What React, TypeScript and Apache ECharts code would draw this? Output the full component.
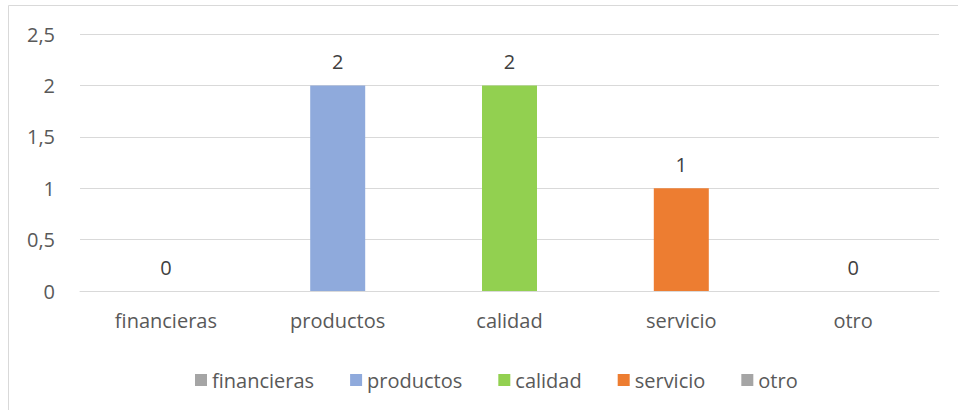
import React, { useEffect, useRef } from "react";
import * as echarts from "echarts";

const categories = ["financieras", "productos", "calidad", "servicio", "otro"];
const values = [0, 2, 2, 1, 0];
const colors = ["#A5A5A5", "#8FAADC", "#92D050", "#ED7D31", "#A5A5A5"];
const yTicks = { min: 0, max: 2.5, interval: 0.5 };

const FONT = "'Open Sans', 'Noto Sans', sans-serif";
const TXT = "#595959";

export default function App() {
  const ref = useRef<HTMLDivElement>(null);
  useEffect(() => {
    if (!ref.current) return;
    const chart = echarts.init(ref.current, null, { renderer: "svg" });
    const series = categories.map((name, i) => ({
      name,
      type: "bar",
      data: categories.map((_, j) => (j === i ? values[i] : "-")),
      barWidth: 55,
      barGap: "-100%",
      itemStyle: { color: colors[i] },
      label: {
        show: true,
        position: "top",
        distance: 14,
        fontFamily: FONT,
        fontSize: 20,
        color: "#404040",
      },
    }));
    chart.setOption({
      animation: false,
      textStyle: { fontFamily: FONT },
      graphic: [
        {
          type: "rect",
          shape: { x: 8.5, y: 5.5, width: 980, height: 430 },
          style: { fill: "none", stroke: "#d9d9d9", lineWidth: 1 },
          silent: true,
        },
      ],
      grid: { left: 80, right: 19, top: 34, bottom: 119, containLabel: false },
      legend: {
        left: 190,
        top: 365,
        icon: "rect",
        itemWidth: 12,
        itemHeight: 12,
        itemGap: 36,
        textStyle: { fontFamily: FONT, fontSize: 20, color: TXT },
        data: categories,
      },
      xAxis: {
        type: "category",
        data: categories,
        axisLine: { lineStyle: { color: "#d9d9d9" } },
        axisTick: { show: false },
        axisLabel: { fontFamily: FONT, fontSize: 20, color: TXT, margin: 19 },
      },
      yAxis: {
        type: "value",
        min: yTicks.min,
        max: yTicks.max,
        interval: yTicks.interval,
        axisLine: { show: false },
        axisTick: { show: false },
        splitLine: { lineStyle: { color: "#d9d9d9", width: 1 } },
        axisLabel: {
          fontFamily: FONT,
          fontSize: 20,
          color: TXT,
          margin: 25,
          formatter: (v: number) => String(v).replace(".", ","),
        },
      },
      series,
    });
    return () => chart.dispose();
  }, []);
  return (
    <div
      ref={ref}
      style={{ position: "absolute", left: 0, top: 0, width: 958, height: 410 }}
    />
  );
}
